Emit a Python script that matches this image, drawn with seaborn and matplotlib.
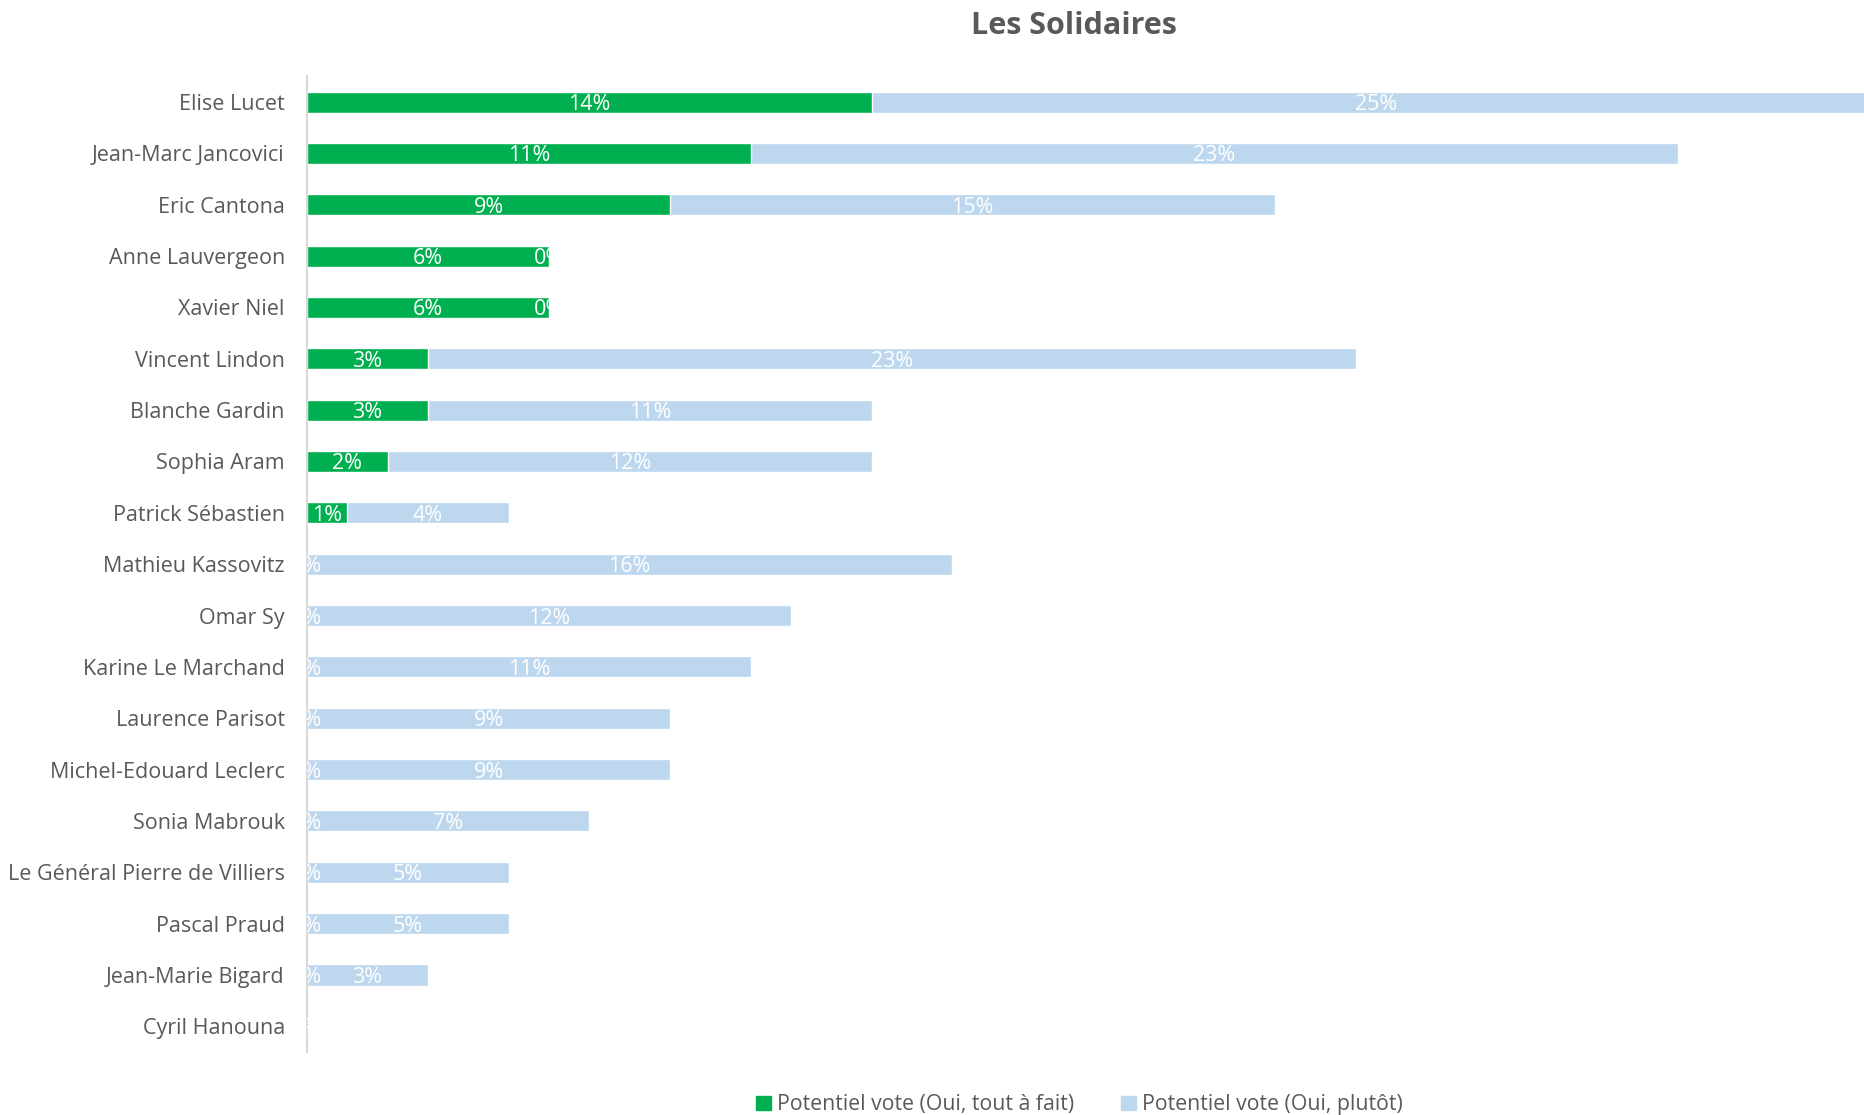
import matplotlib
matplotlib.use("Agg")
import matplotlib.pyplot as plt
import seaborn as sns
import pandas as pd
from matplotlib.patches import Patch

names = ["Elise Lucet", "Jean-Marc Jancovici", "Eric Cantona", "Anne Lauvergeon",
         "Xavier Niel", "Vincent Lindon", "Blanche Gardin", "Sophia Aram",
         "Patrick Sébastien", "Mathieu Kassovitz", "Omar Sy", "Karine Le Marchand",
         "Laurence Parisot", "Michel-Edouard Leclerc", "Sonia Mabrouk",
         "Le Général Pierre de Villiers", "Pascal Praud", "Jean-Marie Bigard",
         "Cyril Hanouna"]
tout_a_fait = [14, 11, 9, 6, 6, 3, 3, 2, 1, 0, 0, 0, 0, 0, 0, 0, 0, 0, 0]
plutot = [25, 23, 15, 0, 0, 23, 11, 12, 4, 16, 12, 11, 9, 9, 7, 5, 5, 3, 0]

title = "Les Solidaires"
legend_labels = ["Potentiel vote (Oui, tout à fait)", "Potentiel vote (Oui, plutôt)"]

GREEN = "#00B050"
BLUE = "#BDD7EE"
GREY = "#595959"

sns.set_theme(style="white")
plt.rcParams["font.family"] = ["Open Sans", "DejaVu Sans"]

df = pd.DataFrame({"name": names, "a": tout_a_fait, "b": plutot})
df["total"] = df["a"] + df["b"]

fig = plt.figure(figsize=(18.64, 11.15), dpi=100)
ax = fig.add_axes([0.1647, 0.0565, 1 - 0.1647, 0.9315 - 0.0565])

sns.barplot(data=df, y="name", x="total", color=BLUE, orient="h", width=0.41,
            saturation=1, ax=ax)
sns.barplot(data=df, y="name", x="a", color=GREEN, orient="h", width=0.41,
            saturation=1, ax=ax)

ax.set_xlim(0, 38.6)
ax.set_ylim(18.5, -0.5)
ax.set_xlabel("")
ax.set_ylabel("")
ax.set_xticks([])
for s in ["top", "right", "bottom"]:
    ax.spines[s].set_visible(False)
ax.spines["left"].set_color("#D9D9D9")
ax.spines["left"].set_linewidth(1.5)
ax.tick_params(axis="y", length=0, pad=16, labelsize=15.5, labelcolor=GREY)

for i, (a, b) in enumerate(zip(tout_a_fait, plutot)):
    ax.text(a / 2, i, f"{a}%", ha="center", va="center_baseline", color="white",
            fontsize=15.5, clip_on=True)
    ax.text(a + b / 2, i, f"{b}%", ha="center", va="center_baseline", color="white",
            fontsize=15.5, clip_on=True)

fig.text(0.576, 0.977, title, ha="center", va="center", fontsize=22,
         fontweight="bold", color=GREY)

handles = [Patch(color=GREEN), Patch(color=BLUE)]
fig.legend(handles, legend_labels, loc="center", bbox_to_anchor=(0.579, 0.009),
           ncol=2, frameon=False, fontsize=15.3, labelcolor=GREY,
           handlelength=0.7, handleheight=0.7, handletextpad=0.3, columnspacing=2.2)

fig.savefig("out.png", dpi=100)
